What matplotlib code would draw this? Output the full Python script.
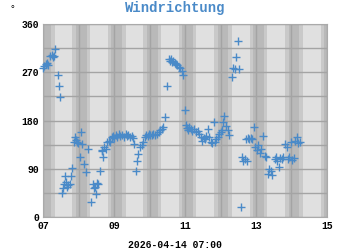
import numpy as np
import matplotlib
matplotlib.use('Agg')
import matplotlib.pyplot as plt

# Stunden (dezimal) und Windrichtung in Grad
stunden = [7.00, 7.03, 7.06, 7.10, 7.14, 7.20, 7.23, 7.26, 7.29, 7.34, 7.40, 7.44, 7.47,
           7.52, 7.55, 7.58, 7.60, 7.63, 7.66, 7.70, 7.74, 7.77, 7.81, 7.87, 7.89, 7.92,
           7.95, 7.98, 8.02, 8.06, 8.10, 8.14, 8.20, 8.27, 8.34, 8.39, 8.42, 8.45, 8.48,
           8.52, 8.55, 8.60, 8.64, 8.66, 8.69, 8.72, 8.76, 8.80, 8.84, 8.88, 8.93, 8.97,
           9.00, 9.04, 9.08, 9.13, 9.17, 9.22, 9.27, 9.32, 9.36, 9.40, 9.45, 9.50, 9.54,
           9.56, 9.60, 9.65, 9.68, 9.73, 9.77, 9.82, 9.87, 9.90, 9.94, 9.98, 10.02, 10.06,
           10.10, 10.14, 10.20, 10.25, 10.30, 10.35, 10.38, 10.43, 10.50, 10.55, 10.57,
           10.60, 10.63, 10.67, 10.70, 10.74, 10.78, 10.82, 10.86, 10.90, 10.95, 10.99,
           11.02, 11.05, 11.08, 11.12, 11.16, 11.20, 11.25, 11.30, 11.35, 11.40, 11.45,
           11.48, 11.52, 11.56, 11.60, 11.64, 11.68, 11.72, 11.76, 11.80, 11.83, 11.87,
           11.92, 11.96, 12.00, 12.03, 12.07, 12.11, 12.15, 12.20, 12.25, 12.33, 12.36,
           12.40, 12.44, 12.49, 12.53, 12.57, 12.60, 12.64, 12.70, 12.74, 12.72, 12.76,
           12.80, 12.85, 12.90, 12.93, 12.98, 13.02, 13.06, 13.10, 13.15, 13.19, 13.24,
           13.28, 13.35, 13.38, 13.41, 13.45, 13.53, 13.57, 13.60, 13.64, 13.68, 13.72,
           13.76, 13.82, 13.86, 13.90, 13.94, 13.98, 14.02, 14.06, 14.10, 14.15, 14.18, 14.24]
richtung = [278, 282, 285, 287, 284, 300, 302, 299, 301, 313, 265, 245, 224,
            45, 55, 62, 77, 66, 57, 60, 62, 77, 91, 140, 150, 143,
            140, 138, 113, 158, 136, 99, 84, 128, 28, 62, 55, 57, 43,
            64, 62, 87, 126, 124, 113, 130, 128, 140, 142, 141, 150, 152,
            148, 153, 150, 155, 152, 154, 150, 156, 152, 154, 149, 151, 148,
            136, 87, 105, 117, 130, 135, 140, 150, 153, 152, 155, 154, 153,
            156, 154, 155, 158, 162, 165, 168, 187, 245, 294, 292,
            295, 290, 291, 288, 285, 283, 280, 278, 272, 265, 200,
            172, 166, 163, 168, 165, 160, 164, 158, 160, 155, 150,
            142, 148, 146, 152, 165, 150, 140, 138, 177, 140, 145,
            150, 155, 158, 162, 178, 188, 170, 163, 153, 261, 278,
            276, 298, 329, 277, 20, 112, 104, 108, 105, 146, 148,
            145, 147, 145, 169, 131, 125, 134, 120, 128, 152, 115,
            112, 80, 90, 86, 79, 108, 112, 105, 94, 110, 108,
            112, 136, 130, 109, 112, 140, 106, 110, 142, 150, 138, 140]

x_ticks = [7, 9, 11, 13, 15]
x_labels = ['07', '09', '11', '13', '15']
y_ticks = [0, 90, 180, 270, 360]
datum = '2026-04-14 07:00'

mono = 'Liberation Mono'
blau = '#4a8ac8'

fig = plt.figure(figsize=(3.5, 2.5), dpi=100)
ax = fig.add_axes([0.124, 0.131, 0.810, 0.773])
ax.set_facecolor('#e0e0e0')

# dunkle Streifen um jede volle Stunde
for h in range(7, 16):
    ax.axvspan(h - 0.18, h - 0.08, color='#c9c9c9', lw=0, zorder=0)
    ax.axvspan(h - 0.08, h + 0.22, color='#b9b9b9', lw=0, zorder=0)
    ax.axvspan(h + 0.22, h + 0.32, color='#c9c9c9', lw=0, zorder=0)

ax.set_xlim(7, 15)
ax.set_ylim(0, 360)
ax.set_xticks(np.arange(7, 16, 1), minor=True)
ax.set_yticks(np.arange(0, 361, 45), minor=True)
ax.set_xticks(x_ticks)
ax.set_xticklabels(x_labels)
ax.set_yticks(y_ticks)
ax.grid(True, which='both', color='#a4a4a4', lw=1, zorder=1)
ax.set_axisbelow(True)
ax.tick_params(which='both', length=0, pad=3)
for lab in ax.get_xticklabels() + ax.get_yticklabels():
    lab.set_family(mono)
    lab.set_fontweight('bold')
    lab.set_fontsize(7)
for s in ax.spines.values():
    s.set_color('#aaaaaa')

ax.plot(stunden, richtung, linestyle='none', marker='+', markersize=5.5,
        markeredgewidth=1, color=blau, zorder=3, clip_on=False)

fig.text(0.5, 0.968, 'Windrichtung', ha='center', va='center', family=mono,
         fontweight='bold', fontsize=10, color=blau)
fig.text(0.035, 0.985, '°', ha='center', va='top', family=mono, fontsize=7)
fig.text(0.5, 0.018, datum, ha='center', va='center', family=mono,
         fontweight='bold', fontsize=7)

fig.savefig('out.png', dpi=100)
